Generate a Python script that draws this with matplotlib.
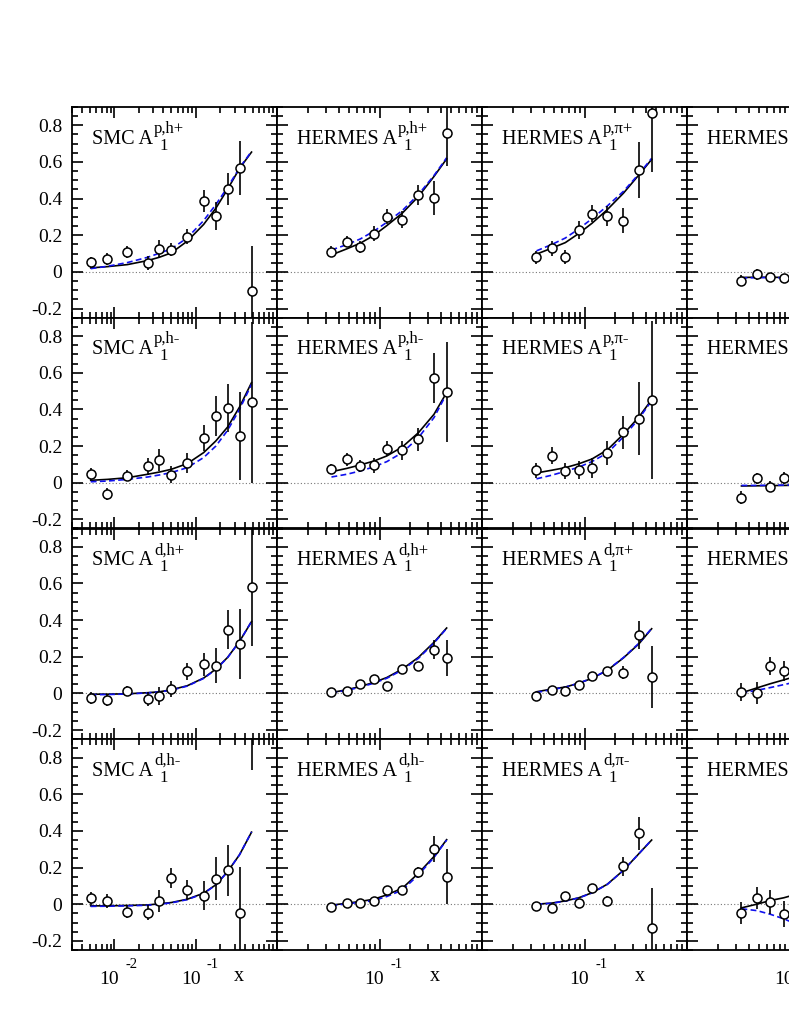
import matplotlib
matplotlib.use('Agg')  # no display
import matplotlib.pyplot as plt
from matplotlib.ticker import MultipleLocator, LogLocator, NullFormatter, FuncFormatter

plt.rcParams['font.family'] = ['Liberation Serif', 'DejaVu Serif']
plt.rcParams['axes.unicode_minus'] = False

# x bins
smc_x = [0.0051, 0.0082, 0.0144, 0.0256, 0.0356, 0.050, 0.0787, 0.125, 0.177, 0.247, 0.346, 0.486]
hermes_x = [0.034, 0.048, 0.065, 0.088, 0.118, 0.167, 0.240, 0.340, 0.452]
hermes_x_cut = hermes_x[:4]   # last column is cut by the page edge
hermes_x_edge = hermes_x[:5]

# --- proton, h+ / pi+
smc_p_hp = [0.053, 0.071, 0.109, 0.051, 0.126, 0.122, 0.193, 0.386, 0.304, 0.454, 0.566, -0.106]
smc_p_hp_err = [0.030, 0.031, 0.031, 0.038, 0.047, 0.036, 0.040, 0.060, 0.077, 0.088, 0.148, 0.245]
smc_p_hp_fit = [0.022, 0.029, 0.040, 0.062, 0.080, 0.104, 0.168, 0.259, 0.348, 0.452, 0.565, 0.654]
smc_p_hp_alt = [0.018, 0.031, 0.051, 0.080, 0.102, 0.126, 0.186, 0.280, 0.368, 0.463, 0.568, 0.658]

her_p_hp = [0.109, 0.166, 0.137, 0.208, 0.302, 0.286, 0.421, 0.404, 0.756]
her_p_hp_err = [0.030, 0.032, 0.032, 0.040, 0.040, 0.045, 0.055, 0.094, 0.180]
her_p_hp_fit = [0.093, 0.126, 0.157, 0.199, 0.253, 0.321, 0.412, 0.521, 0.617]
her_p_hp_alt = [0.120, 0.149, 0.180, 0.222, 0.271, 0.335, 0.423, 0.526, 0.623]

her_p_pip = [0.079, 0.129, 0.082, 0.229, 0.318, 0.303, 0.279, 0.556, 0.867]
her_p_pip_err = [0.033, 0.040, 0.036, 0.048, 0.048, 0.055, 0.068, 0.155, 0.320]
her_p_pip_fit = [0.097, 0.130, 0.160, 0.210, 0.265, 0.340, 0.430, 0.530, 0.614]
her_p_pip_alt = [0.115, 0.150, 0.185, 0.235, 0.290, 0.360, 0.440, 0.535, 0.620]

her_n_hp = [-0.047, -0.012, -0.029, -0.035]
her_n_hp_err = [0.030, 0.030, 0.025, 0.025]
her_n_hp_fit = [-0.030, -0.029, -0.029, -0.030, -0.031]
her_n_hp_alt = [-0.033, -0.031, -0.031, -0.032, -0.033]

# --- proton, h- / pi-
smc_p_hm = [0.049, -0.062, 0.038, 0.089, 0.122, 0.044, 0.109, 0.244, 0.364, 0.406, 0.257, 0.439]
smc_p_hm_err = [0.032, 0.035, 0.030, 0.045, 0.060, 0.048, 0.055, 0.073, 0.110, 0.132, 0.240, 0.440]
smc_p_hm_fit = [0.013, 0.018, 0.027, 0.046, 0.058, 0.073, 0.104, 0.164, 0.228, 0.304, 0.413, 0.546]
smc_p_hm_alt = [0.005, 0.009, 0.018, 0.031, 0.042, 0.055, 0.082, 0.137, 0.200, 0.286, 0.400, 0.537]

her_p_hm = [0.073, 0.128, 0.091, 0.095, 0.186, 0.177, 0.237, 0.570, 0.497]
her_p_hm_err = [0.028, 0.036, 0.033, 0.040, 0.040, 0.052, 0.064, 0.137, 0.273]
her_p_hm_fit = [0.060, 0.078, 0.097, 0.118, 0.146, 0.195, 0.273, 0.373, 0.492]
her_p_hm_alt = [0.031, 0.046, 0.064, 0.086, 0.115, 0.164, 0.246, 0.355, 0.486]

her_p_pim = [0.068, 0.147, 0.065, 0.071, 0.079, 0.162, 0.274, 0.350, 0.450]
her_p_pim_err = [0.040, 0.045, 0.045, 0.050, 0.055, 0.065, 0.088, 0.200, 0.430]
her_p_pim_fit = [0.053, 0.068, 0.082, 0.103, 0.129, 0.179, 0.265, 0.359, 0.453]
her_p_pim_alt = [0.021, 0.041, 0.062, 0.085, 0.115, 0.162, 0.250, 0.350, 0.447]

her_n_hm = [-0.082, 0.024, -0.021, 0.026]
her_n_hm_err = [0.035, 0.030, 0.030, 0.035]
her_n_hm_fit = [-0.018, -0.017, -0.016, -0.015, -0.014]
her_n_hm_alt = [-0.015, -0.015, -0.014, -0.013, -0.012]

# --- deuteron, h+ / pi+
smc_d_hp = [-0.027, -0.038, 0.015, -0.031, -0.013, 0.024, 0.120, 0.158, 0.151, 0.348, 0.271, 0.579]
smc_d_hp_err = [0.033, 0.033, 0.028, 0.038, 0.050, 0.045, 0.047, 0.064, 0.095, 0.108, 0.190, 0.320]
smc_d_hp_fit = [-0.004, -0.004, -0.002, 0.004, 0.009, 0.020, 0.042, 0.084, 0.133, 0.197, 0.284, 0.392]
smc_d_hp_alt = [-0.007, -0.006, -0.003, 0.003, 0.008, 0.018, 0.040, 0.082, 0.131, 0.196, 0.284, 0.393]

her_d_hp = [0.009, 0.011, 0.049, 0.078, 0.038, 0.133, 0.148, 0.239, 0.193]
her_d_hp_err = [0.012, 0.012, 0.015, 0.018, 0.020, 0.020, 0.025, 0.050, 0.100]
her_d_hp_fit = [0.005, 0.020, 0.038, 0.060, 0.087, 0.133, 0.197, 0.279, 0.357]
her_d_hp_alt = [0.003, 0.017, 0.034, 0.056, 0.083, 0.128, 0.192, 0.275, 0.355]

her_d_pip = [-0.015, 0.021, 0.015, 0.047, 0.097, 0.121, 0.112, 0.318, 0.088]
her_d_pip_err = [0.012, 0.015, 0.015, 0.020, 0.020, 0.025, 0.035, 0.075, 0.170]
her_d_pip_fit = [0.009, 0.024, 0.035, 0.056, 0.082, 0.126, 0.194, 0.271, 0.353]
her_d_pip_alt = [0.005, 0.021, 0.034, 0.056, 0.083, 0.127, 0.196, 0.274, 0.355]

her_dk_p = [0.009, 0.003, 0.150, 0.121]
her_dk_p_err = [0.050, 0.060, 0.050, 0.055]
her_dk_p_fit = [0.003, 0.030, 0.053, 0.074, 0.095]
her_dk_p_alt = [0.002, 0.017, 0.032, 0.048, 0.064]

# --- deuteron, h- / pi-
smc_d_hm = [0.033, 0.015, -0.040, -0.046, 0.020, 0.144, 0.078, 0.047, 0.138, 0.184, -0.046, 1.05]
smc_d_hm_err = [0.036, 0.038, 0.036, 0.043, 0.060, 0.055, 0.055, 0.077, 0.117, 0.137, 0.250, 0.320]
smc_d_hm_fit = [-0.009, -0.009, -0.007, -0.004, 0.002, 0.009, 0.027, 0.060, 0.106, 0.178, 0.270, 0.393]
smc_d_hm_alt = [-0.012, -0.011, -0.009, -0.006, 0.000, 0.007, 0.025, 0.058, 0.105, 0.177, 0.270, 0.394]

her_d_hm = [-0.013, 0.009, 0.005, 0.020, 0.075, 0.078, 0.173, 0.302, 0.151]
her_d_hm_err = [0.010, 0.012, 0.012, 0.015, 0.020, 0.022, 0.032, 0.070, 0.150]
her_d_hm_fit = [-0.005, 0.005, 0.015, 0.027, 0.051, 0.087, 0.169, 0.260, 0.352]
her_d_hm_alt = [-0.008, 0.002, 0.010, 0.020, 0.042, 0.077, 0.160, 0.255, 0.350]

her_d_pim = [-0.009, -0.021, 0.047, 0.009, 0.091, 0.018, 0.206, 0.388, -0.132]
her_d_pim_err = [0.012, 0.015, 0.018, 0.018, 0.020, 0.025, 0.050, 0.090, 0.220]
her_d_pim_fit = [0.000, 0.006, 0.018, 0.035, 0.062, 0.109, 0.185, 0.276, 0.350]
her_d_pim_alt = [0.000, 0.005, 0.017, 0.034, 0.061, 0.108, 0.185, 0.276, 0.351]

her_dk_m = [-0.047, 0.032, 0.012, -0.053]
her_dk_m_err = [0.060, 0.060, 0.065, 0.070]
her_dk_m_fit = [-0.020, 0.000, 0.020, 0.035, 0.055]
her_dk_m_alt = [-0.025, -0.035, -0.055, -0.080, -0.110]

# experiment, superscript, data x, values, errors, curve x, solid curve, dashed curve
panels = [
    [('SMC', 'p,h+', smc_x, smc_p_hp, smc_p_hp_err, smc_x, smc_p_hp_fit, smc_p_hp_alt),
     ('HERMES', 'p,h+', hermes_x, her_p_hp, her_p_hp_err, hermes_x, her_p_hp_fit, her_p_hp_alt),
     ('HERMES', 'p,π+', hermes_x, her_p_pip, her_p_pip_err, hermes_x, her_p_pip_fit, her_p_pip_alt),
     ('HERMES', 'He,h+', hermes_x_cut, her_n_hp, her_n_hp_err, hermes_x_edge, her_n_hp_fit, her_n_hp_alt)],
    [('SMC', 'p,h-', smc_x, smc_p_hm, smc_p_hm_err, smc_x, smc_p_hm_fit, smc_p_hm_alt),
     ('HERMES', 'p,h-', hermes_x, her_p_hm, her_p_hm_err, hermes_x, her_p_hm_fit, her_p_hm_alt),
     ('HERMES', 'p,π-', hermes_x, her_p_pim, her_p_pim_err, hermes_x, her_p_pim_fit, her_p_pim_alt),
     ('HERMES', 'He,h-', hermes_x_cut, her_n_hm, her_n_hm_err, hermes_x_edge, her_n_hm_fit, her_n_hm_alt)],
    [('SMC', 'd,h+', smc_x, smc_d_hp, smc_d_hp_err, smc_x, smc_d_hp_fit, smc_d_hp_alt),
     ('HERMES', 'd,h+', hermes_x, her_d_hp, her_d_hp_err, hermes_x, her_d_hp_fit, her_d_hp_alt),
     ('HERMES', 'd,π+', hermes_x, her_d_pip, her_d_pip_err, hermes_x, her_d_pip_fit, her_d_pip_alt),
     ('HERMES', 'd,K+', hermes_x_cut, her_dk_p, her_dk_p_err, hermes_x_edge, her_dk_p_fit, her_dk_p_alt)],
    [('SMC', 'd,h-', smc_x, smc_d_hm, smc_d_hm_err, smc_x, smc_d_hm_fit, smc_d_hm_alt),
     ('HERMES', 'd,h-', hermes_x, her_d_hm, her_d_hm_err, hermes_x, her_d_hm_fit, her_d_hm_alt),
     ('HERMES', 'd,π-', hermes_x, her_d_pim, her_d_pim_err, hermes_x, her_d_pim_fit, her_d_pim_alt),
     ('HERMES', 'd,K-', hermes_x_cut, her_dk_m, her_dk_m_err, hermes_x_edge, her_dk_m_fit, her_dk_m_alt)],
]

W, H = 789, 1021
left, top, pw, ph = 72, 107, 205, 210.75
LABEL_Y = 0.826


def decade_label(ax, xval, exponent):
    # "10" with a raised, slightly detached exponent under a decade tick
    tr = ax.get_xaxis_transform()
    ax.annotate('10', xy=(xval, 0), xycoords=tr, xytext=(-5, -29), textcoords='offset pixels',
                ha='center', va='center', fontsize=14, annotation_clip=False)
    ax.annotate(exponent, xy=(xval, 0), xycoords=tr, xytext=(17, -14), textcoords='offset pixels',
                ha='center', va='center', fontsize=10.5, annotation_clip=False)


fig = plt.figure(figsize=(W / 100, H / 100), dpi=100)

for r, row in enumerate(panels):
    for c, (name, sup, x, y, err, cx, fit, alt) in enumerate(row):
        ax = fig.add_axes([(left + c * pw) / W, 1 - (top + (r + 1) * ph) / H, pw / W, ph / H])
        ax.set_xscale('log')
        ax.set_xlim(0.003 if c == 0 else 0.01, 1)
        ax.set_ylim(-0.25, 0.9)

        ax.axhline(0, color='#777777', ls=(0, (1, 2)), lw=0.8, zorder=1)
        ax.plot(cx, fit, color='black', lw=1.2, zorder=2)
        ax.plot(cx, alt, color='#1010ee', lw=1.2, dashes=(3.5, 2), zorder=2)
        ax.errorbar(x, y, yerr=err, fmt='o', ms=6.5, mfc='white', mec='black', mew=1.1,
                    ecolor='black', elinewidth=1.2, capsize=0, zorder=3)

        # panel label: "SMC A" with superscript target/hadron and subscript 1
        t = ax.text(0.098, LABEL_Y, name + ' A', transform=ax.transAxes, fontsize=14.5,
                    ha='left', va='baseline')
        ax.annotate(sup, xy=(1, LABEL_Y), xycoords=(t, ax.transAxes), xytext=(1, 11),
                    textcoords='offset pixels', fontsize=12, ha='left', va='baseline')
        ax.annotate('1', xy=(1, LABEL_Y), xycoords=(t, ax.transAxes), xytext=(6, -6),
                    textcoords='offset pixels', fontsize=12, ha='left', va='baseline')

        for s in ax.spines.values():
            s.set_linewidth(1.3)
        ax.tick_params(which='both', direction='in', top=True, right=True, width=1.2,
                       labelsize=14)
        ax.tick_params(which='major', length=8)
        ax.tick_params(which='minor', length=4)
        ax.tick_params(axis='y', which='major', pad=7)

        ax.yaxis.set_major_locator(MultipleLocator(0.2))
        ax.yaxis.set_minor_locator(MultipleLocator(0.05))
        ax.yaxis.set_major_formatter(FuncFormatter(lambda v, p: '0' if abs(v) < 1e-9 else '%.1f' % v))

        ax.set_xticks([0.01, 0.1, 1])
        ax.xaxis.set_minor_locator(LogLocator(base=10, subs=range(2, 10), numticks=20))
        ax.xaxis.set_minor_formatter(NullFormatter())
        ax.tick_params(labelleft=(c == 0), labelbottom=False)

        if r == 3:
            if c == 0:
                decade_label(ax, 0.01, '-2')
            decade_label(ax, 0.1, '-1')
            ax.text(0.815 if c == 0 else 0.77, -0.128, 'x', transform=ax.transAxes,
                    fontsize=14.5, ha='center', va='center')

fig.savefig('out.png', dpi=100)
